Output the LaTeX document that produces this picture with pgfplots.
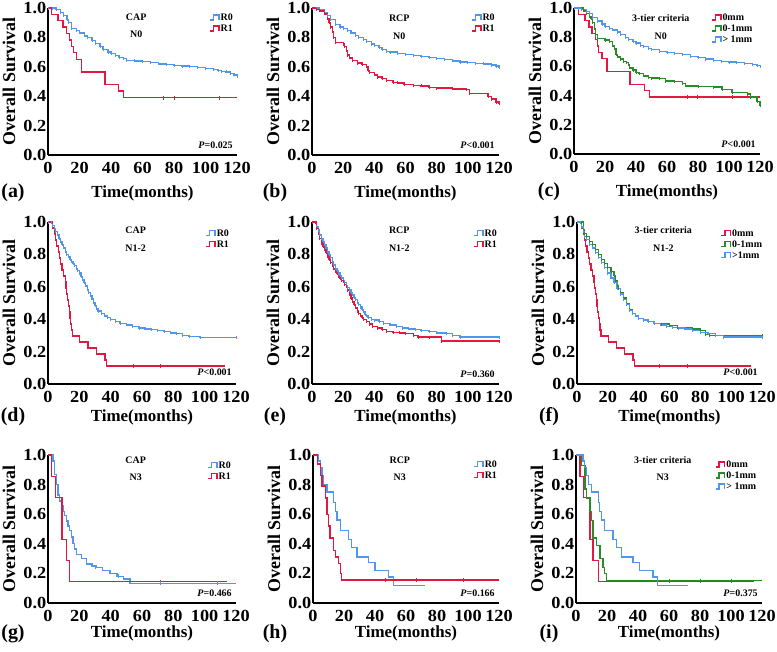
\documentclass[border=0pt]{standalone}
\usepackage{pgfplots}
\pgfplotsset{compat=1.18}
\usepackage{fontspec}
\setmainfont{Liberation Serif}
\definecolor{kmBlue}{RGB}{80,150,235}
\definecolor{kmRed}{RGB}{225,25,65}
\definecolor{kmGreen}{RGB}{40,140,40}
\newcommand{\tickfont}{\bfseries\fontsize{17}{17}\selectfont\addfontfeature{FakeStretch=1.08}}

\pgfplotsset{
  km/.style={
    scale only axis, anchor=south west,
    xmin=0, xmax=120, ymin=0, ymax=1,
    xtick={0,20,40,60,80,100,120}, ytick={0,0.2,0.4,0.6,0.8,1},
    axis lines=left, axis line style={-, line width=2.2bp, black},
    major tick length=0pt, clip=false,
    /pgf/number format/assume math mode=true,
    yticklabel style={/pgf/number format/fixed, /pgf/number format/fixed zerofill, /pgf/number format/precision=1},
    ticklabel style={font=\tickfont, inner sep=1.5bp},
    xticklabel style={yshift=-6.5bp, inner sep=0.5bp},
    legend style={draw=none, fill=none, anchor=north west, legend cell align=left,
      font=\bfseries\fontsize{10}{10}\selectfont, row sep=1bp,
      nodes={text height=7bp, text depth=1bp, inner sep=1bp}},
    legend image code/.code={
      \draw[#1, line width=1.4bp, mark=none] (0bp,-2.5bp) -- (3.5bp,-2.5bp) -- (3.5bp,2.5bp) -- (9bp,2.5bp) -- (9bp,-2.5bp);
    },
  },
  kmline/.style={const plot, line width=1.3bp, mark=none},
  kmfuzz/.style={const plot, line width=1.3bp, mark=|, mark size=1.5bp, mark options={line width=0.7bp}},
  kmcens/.style={only marks, mark=|, mark size=2bp, mark options={line width=0.8bp}, forget plot},
}

% #1 panel, #2 method, #3 group, #4 P text, #5 method y, #6 group y, #7 xlabel drop, #8 panel x offset, #9 P y
\newcommand{\kmtext}[9]{%
  \node[font=\bfseries\fontsize{10}{12}\selectfont] at (axis cs:56,#5) {#2};
  \node[font=\bfseries\fontsize{10}{12}\selectfont] at (axis cs:56,#6) {#3};
  \node[font=\bfseries\fontsize{10}{12}\selectfont, anchor=east] at (axis cs:119.5,#9) {#4};
  \node[font=\bfseries\fontsize{17}{19}\selectfont, inner sep=0pt] at ([yshift=-#7bp]rel axis cs:0.5,0) {Time(months)};
  \node[font=\bfseries\fontsize{20}{22}\selectfont, inner sep=0pt] at ([xshift=#8bp,yshift=-#7bp]rel axis cs:0,0) {#1};
  \node[font=\bfseries\fontsize{18}{20}\selectfont, rotate=90] at ([xshift=-39bp]rel axis cs:0,0.5) {Overall Survival};
}

\begin{document}
\begin{tikzpicture}
\useasboundingbox (0,0) rectangle (777bp,-652bp);

% ---------------- (a) CAP N0
\begin{axis}[km, at={(48bp,-155bp)}, width=189bp, height=147bp,
  legend style={at={(0.836,0.985)}}]
\addplot[kmfuzz, kmBlue] coordinates {(0,1)(3,1)(5,0.99)(8,0.97)(10,0.95)(12,0.92)(13,0.9)(15,0.86)(18,0.845)(20,0.83)(23,0.81)(25,0.80)(28,0.78)(30,0.76)(33,0.74)(35,0.72)(38,0.70)(40,0.69)(43,0.675)(45,0.665)(48,0.655)(50,0.645)(55,0.64)(60,0.635)(65,0.627)(70,0.62)(75,0.615)(80,0.61)(85,0.605)(90,0.60)(95,0.595)(100,0.59)(105,0.58)(108,0.575)(110,0.57)(113,0.565)(116,0.555)(118,0.545)(120,0.535)};
\addplot[kmline, kmRed] coordinates {(0,1)(2.1,0.957)(6.4,0.913)(9.6,0.87)(11.7,0.826)(13.8,0.783)(15,0.739)(16,0.696)(18,0.652)(21.2,0.565)(36.1,0.478)(44.6,0.435)(47.8,0.391)(120,0.391)};
\addplot[kmcens, kmRed] coordinates {(73,0.391)(80,0.391)(109,0.391)};
\legend{R0,R1}
\kmtext{(a)}{CAP}{N0}{\textit{P}=0.025}{0.94}{0.82}{38}{-35}{0.067}
\end{axis}

% ---------------- (b) RCP N0
\begin{axis}[km, at={(312bp,-155bp)}, width=187bp, height=147bp,
  legend style={at={(0.834,0.985)}}]
\addplot[kmfuzz, kmBlue] coordinates {(0,1)(3,1)(5,0.99)(8,0.97)(10,0.95)(12,0.92)(15,0.89)(18,0.87)(20,0.86)(23,0.845)(25,0.83)(28,0.815)(30,0.80)(33,0.785)(35,0.77)(38,0.755)(40,0.745)(43,0.73)(45,0.72)(48,0.705)(50,0.70)(55,0.69)(60,0.685)(65,0.678)(70,0.67)(75,0.662)(80,0.655)(85,0.648)(90,0.64)(95,0.632)(100,0.628)(105,0.624)(110,0.62)(115,0.612)(118,0.605)(120,0.595)};
\addplot[kmfuzz, kmRed] coordinates {(0,1)(3,0.99)(5,0.98)(8,0.96)(10,0.93)(11,0.9)(12,0.87)(13,0.84)(14,0.80)(15,0.765)(20,0.755)(21,0.74)(22,0.71)(23,0.68)(24,0.66)(26,0.645)(29,0.625)(32,0.615)(35,0.60)(36,0.575)(37,0.56)(40,0.545)(42,0.53)(45,0.52)(48,0.505)(52,0.495)(55,0.49)(59,0.48)(65,0.475)(70,0.47)(75,0.458)(80,0.455)(90,0.45)(99,0.447)(101,0.42)(113,0.40)(115,0.38)(118,0.36)(120,0.35)};
\legend{R0,R1}
\kmtext{(b)}{RCP}{N0}{\textit{P}<0.001}{0.93}{0.81}{38}{-37}{0.067}
\end{axis}

% ---------------- (c) 3-tier N0
\begin{axis}[km, at={(574bp,-154bp)}, width=186bp, height=146bp,
  legend style={at={(0.72,0.985)}}]
\addplot[kmline, kmRed] coordinates {(0,1)(2.8,0.957)(7,0.913)(9.6,0.87)(11.7,0.826)(13.8,0.783)(15,0.739)(16,0.696)(18,0.652)(21.2,0.565)(36.1,0.478)(45.4,0.435)(48.6,0.391)(120,0.391)};
\addplot[kmfuzz, kmGreen] coordinates {(0,1)(5,1)(6,0.98)(8,0.96)(10,0.94)(11,0.93)(12,0.90)(13,0.86)(14,0.82)(15,0.79)(20,0.78)(23,0.77)(25,0.74)(26,0.72)(27,0.68)(28,0.665)(30,0.65)(32,0.635)(34,0.625)(35,0.61)(36,0.59)(38,0.575)(40,0.56)(42,0.55)(45,0.535)(48,0.525)(50,0.52)(55,0.515)(59,0.50)(65,0.495)(70,0.485)(72,0.466)(80,0.462)(90,0.458)(95.5,0.44)(102,0.42)(112,0.41)(114,0.39)(118,0.36)(120,0.33)};
\addplot[kmfuzz, kmBlue] coordinates {(0,1)(3,1)(5,0.99)(8,0.975)(10,0.96)(12,0.935)(15,0.91)(18,0.89)(20,0.875)(23,0.86)(25,0.85)(28,0.835)(30,0.82)(33,0.80)(35,0.785)(38,0.77)(40,0.76)(43,0.745)(45,0.735)(48,0.725)(50,0.715)(55,0.70)(60,0.695)(65,0.69)(70,0.68)(75,0.67)(80,0.66)(85,0.65)(90,0.64)(95,0.635)(100,0.63)(105,0.625)(110,0.62)(115,0.615)(118,0.608)(120,0.60)};
\addplot[kmcens, kmRed] coordinates {(73,0.391)(79.5,0.391)(102,0.391)};
\legend{0mm,0-1mm,> 1mm}
\kmtext{(c)}{3-tier criteria}{N0}{\textit{P}<0.001}{0.93}{0.81}{38}{-25}{0.064}
\end{axis}

% ---------------- (d) CAP N1-2
\begin{axis}[km, at={(48bp,-384bp)}, width=188bp, height=162bp,
  legend style={at={(0.82,0.975)}}]
\addplot[kmfuzz, kmBlue] coordinates {(0,1)(2,1)(3,0.98)(4,0.96)(5,0.94)(6,0.92)(7,0.90)(8,0.88)(9,0.86)(10,0.84)(11,0.82)(12,0.80)(13,0.785)(14,0.77)(15,0.755)(16,0.745)(17,0.73)(18,0.715)(19,0.70)(20,0.685)(21,0.665)(22,0.645)(23,0.625)(24,0.605)(25,0.585)(26,0.565)(27,0.545)(28,0.525)(29,0.505)(30,0.485)(31,0.465)(32,0.45)(34,0.435)(36,0.42)(38,0.41)(40,0.40)(43,0.385)(46,0.375)(50,0.365)(54,0.355)(58,0.345)(62,0.34)(66,0.335)(70,0.33)(74,0.325)(78,0.315)(82,0.31)(86,0.30)(90,0.295)(97,0.285)(120,0.285)};
\addplot[kmline, kmRed] coordinates {(0,1)(2,1)(3,0.963)(4,0.926)(5,0.889)(5.5,0.852)(6.5,0.815)(7.5,0.778)(8,0.741)(9,0.704)(10,0.667)(11,0.630)(11.5,0.593)(12,0.556)(12.5,0.519)(13,0.481)(13.5,0.444)(14,0.407)(14.5,0.370)(15,0.333)(15.5,0.296)(20.3,0.259)(25.6,0.222)(31,0.185)(36.3,0.148)(37.4,0.111)(113,0.111)};
\addplot[kmcens, kmRed] coordinates {(54.5,0.111)(71.6,0.111)};
\legend{R0,R1}
\kmtext{(d)}{CAP}{N1-2}{\textit{P}<0.001}{0.95}{0.84}{33}{-35}{0.074}
\end{axis}

% ---------------- (e) RCP N1-2
\begin{axis}[km, at={(312bp,-384bp)}, width=187bp, height=162bp,
  legend style={at={(0.845,0.975)}}]
\addplot[kmfuzz, kmBlue] coordinates {(0,1)(2,1)(3,0.97)(4,0.95)(5,0.92)(6,0.90)(7,0.88)(8,0.86)(9,0.84)(10,0.82)(11,0.80)(12,0.78)(13,0.755)(14,0.735)(15,0.715)(16,0.70)(17,0.685)(18,0.67)(19,0.655)(20,0.64)(21,0.625)(22,0.61)(23,0.595)(24,0.58)(25,0.565)(26,0.55)(27,0.535)(28,0.52)(29,0.505)(30,0.49)(31,0.475)(32,0.46)(33,0.445)(34,0.43)(35,0.42)(36,0.41)(38,0.40)(40,0.395)(43,0.385)(46,0.375)(50,0.365)(54,0.355)(58,0.345)(62,0.34)(66,0.335)(70,0.33)(75,0.325)(80,0.315)(86,0.31)(90,0.30)(95,0.29)(120,0.29)};
\addplot[kmfuzz, kmRed] coordinates {(0,1)(2,1)(3,0.96)(4,0.93)(5,0.90)(6,0.87)(7,0.85)(8,0.83)(9,0.81)(10,0.79)(11,0.77)(12,0.75)(13,0.73)(14,0.71)(15,0.695)(16,0.68)(17,0.665)(18,0.65)(19,0.64)(20,0.63)(21,0.615)(22,0.60)(23,0.58)(24,0.555)(25,0.53)(26,0.51)(27,0.49)(28,0.47)(29,0.45)(30,0.435)(31,0.42)(32,0.41)(33,0.40)(35,0.385)(37,0.37)(39,0.355)(42,0.345)(45,0.335)(48,0.325)(52,0.32)(56,0.315)(60,0.31)(65,0.30)(68,0.29)(75,0.29)(83,0.265)(120,0.265)};
\legend{R0,R1}
\kmtext{(e)}{RCP}{N1-2}{\textit{P}=0.360}{0.95}{0.84}{33}{-37}{0.062}
\end{axis}

% ---------------- (f) 3-tier N1-2
\begin{axis}[km, at={(577bp,-384bp)}, width=185bp, height=162bp,
  legend style={at={(0.76,0.975)}}]
\addplot[kmline, kmRed] coordinates {(0,1)(2,1)(3,0.963)(4,0.926)(5,0.889)(5.5,0.852)(6.5,0.815)(7.5,0.778)(8,0.741)(9,0.704)(10,0.667)(11,0.630)(11.5,0.593)(12,0.556)(12.5,0.519)(13,0.481)(13.5,0.444)(14,0.407)(14.5,0.370)(15,0.333)(15.5,0.296)(20.3,0.259)(25.6,0.222)(31,0.185)(36.3,0.148)(37.4,0.111)(113,0.111)};
\addplot[kmfuzz, kmGreen] coordinates {(0,1)(3,1)(4,0.95)(5,0.93)(6,0.91)(8,0.88)(10,0.86)(12,0.83)(14,0.80)(16,0.77)(18,0.745)(20,0.72)(22,0.695)(24,0.67)(25,0.64)(26,0.61)(27,0.59)(28,0.565)(30,0.53)(32,0.495)(34,0.46)(36,0.435)(38,0.42)(40,0.405)(43,0.395)(46,0.385)(50,0.375)(55,0.37)(60,0.36)(65,0.35)(70,0.345)(75,0.34)(80,0.33)(83.5,0.305)(86,0.30)(120,0.30)};
\addplot[kmfuzz, kmBlue] coordinates {(0,1)(2,1)(3,0.97)(4,0.94)(5,0.91)(6,0.89)(8,0.86)(10,0.84)(12,0.81)(14,0.78)(16,0.75)(18,0.72)(20,0.685)(22,0.655)(24,0.625)(26,0.59)(28,0.555)(30,0.52)(32,0.49)(34,0.455)(36,0.435)(38,0.42)(40,0.405)(43,0.395)(46,0.385)(50,0.375)(54,0.365)(58,0.355)(62,0.35)(66,0.345)(70,0.34)(75,0.33)(80,0.32)(85,0.31)(90,0.30)(95,0.29)(120,0.29)};
\addplot[kmcens, kmRed] coordinates {(53.5,0.111)(71.7,0.111)};
\legend{0mm,0-1mm,>1mm}
\kmtext{(f)}{3-tier criteria}{N1-2}{\textit{P}<0.001}{0.95}{0.84}{33}{-28}{0.074}
\end{axis}

% ---------------- (g) CAP N3
\begin{axis}[km, at={(48bp,-603bp)}, width=188bp, height=148bp,
  legend style={at={(0.83,0.98)}}]
\addplot[kmline, kmBlue] coordinates {(0,1)(2.5,1)(3.2,0.96)(4.3,0.87)(5.3,0.80)(6.4,0.73)(7.5,0.69)(8.5,0.655)(9.6,0.62)(10.7,0.59)(11.8,0.555)(12.8,0.52)(13.9,0.49)(15,0.445)(16,0.40)(17,0.365)(18.2,0.33)(21.4,0.30)(24.6,0.263)(28,0.25)(31,0.24)(35,0.22)(39.5,0.20)(44,0.18)(48,0.162)(52.4,0.133)(120,0.133)};
\addplot[kmline, kmRed] coordinates {(0,1)(2.1,0.857)(4.7,0.714)(9,0.429)(11.8,0.286)(13.9,0.143)(114,0.143)};
\addplot[kmcens, kmRed] coordinates {(71.6,0.143)};
\addplot[kmcens, kmBlue] coordinates {(30,0.24)(45,0.18)(72,0.133)(108,0.133)};
\legend{R0,R1}
\kmtext{(g)}{CAP}{N3}{\textit{P}=0.466}{0.966}{0.85}{30.5}{-35}{0.068}
\end{axis}

% ---------------- (h) RCP N3
\begin{axis}[km, at={(313bp,-603bp)}, width=186bp, height=148bp,
  legend style={at={(0.845,0.986)}}]
\addplot[kmline, kmBlue] coordinates {(0,1)(3,1)(3.6,0.96)(4.7,0.915)(5.8,0.86)(6.9,0.80)(9,0.75)(13.3,0.68)(14.3,0.62)(15.4,0.56)(17.6,0.49)(22.9,0.43)(25,0.377)(28.3,0.31)(35.8,0.276)(40,0.22)(48.6,0.175)(51.8,0.12)(72.2,0.12)};
\addplot[kmline, kmRed] coordinates {(0,1)(2,1)(3,0.94)(4.7,0.86)(5.8,0.79)(7.9,0.71)(9,0.60)(10,0.52)(11,0.44)(13.3,0.354)(14.3,0.31)(16.5,0.265)(17.6,0.20)(18.6,0.155)(120,0.155)};
\addplot[kmcens, kmRed] coordinates {(46.5,0.155)(66.8,0.155)(96.8,0.155)};
\legend{R0,R1}
\kmtext{(h)}{RCP}{N3}{\textit{P}=0.166}{0.966}{0.85}{30.5}{-38}{0.068}
\end{axis}

% ---------------- (i) 3-tier N3
\begin{axis}[km, at={(576bp,-603bp)}, width=186bp, height=148bp,
  legend style={at={(0.73,0.985)}}]
\addplot[kmline, kmRed] coordinates {(0,1)(2.6,0.857)(4.7,0.714)(9,0.429)(11,0.286)(14.3,0.143)(115,0.143)};
\addplot[kmline, kmGreen] coordinates {(0,1)(2,1)(3.6,0.93)(5.8,0.77)(6.8,0.71)(9,0.62)(10,0.556)(11,0.44)(13.2,0.39)(15.4,0.30)(17.5,0.24)(18.6,0.20)(19.7,0.152)(120,0.152)};
\addplot[kmline, kmBlue] coordinates {(0,1)(4,1)(4.6,0.96)(5.7,0.915)(6.8,0.86)(7.9,0.80)(10,0.75)(14.3,0.68)(15.3,0.62)(16.4,0.56)(18.6,0.49)(23.9,0.43)(26,0.377)(29.3,0.31)(36.8,0.276)(41,0.22)(49.6,0.175)(52.8,0.12)(72.2,0.12)};
\addplot[kmcens, kmGreen] coordinates {(60,0.152)(80,0.152)(100,0.152)};
\legend{0mm,0-1mm,> 1mm}
\kmtext{(i)}{3-tier criteria}{N3}{\textit{P}=0.375}{0.966}{0.85}{30.5}{-27}{0.068}
\end{axis}
\end{tikzpicture}
\end{document}
